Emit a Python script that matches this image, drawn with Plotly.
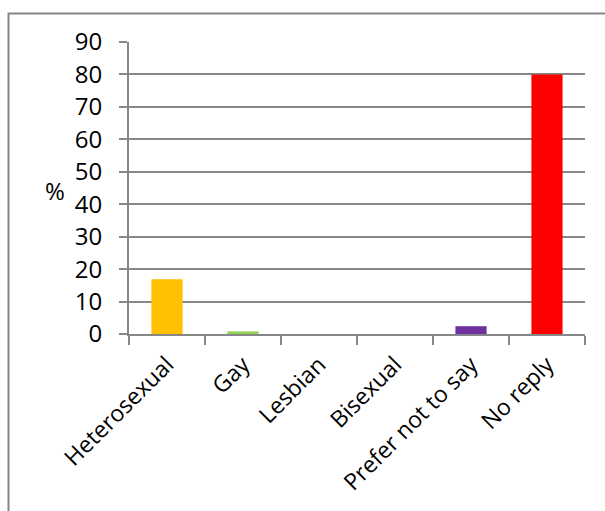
import plotly.graph_objects as go

categories = ["Heterosexual", "Gay", "Lesbian", "Bisexual", "Prefer not to say", "No reply"]
values = [16.9, 0.8, 0, 0, 2.4, 80]
colors = ["#FFC000", "#92D050", "#4F81BD", "#C0504D", "#7030A0", "#FF0000"]
y_ticks = [0, 10, 20, 30, 40, 50, 60, 70, 80, 90]

L, R, T, B = 129, 585, 42, 334
W, H = 605, 511

fig = go.Figure(go.Bar(x=categories, y=values, marker=dict(color=colors, line=dict(width=0)),
                       width=0.41))

font = "Open Sans"
fig.update_layout(
    width=W, height=H,
    margin=dict(l=L, r=W - R, t=T, b=H - B),
    paper_bgcolor="white", plot_bgcolor="white",
    showlegend=False,
    font=dict(family=font, color="black"),
)
fig.update_xaxes(
    type="category", range=[-0.5, 5.5],
    showline=True, linecolor="#878787", linewidth=2,
    ticks="outside", tickson="boundaries", ticklen=9, tickwidth=1.5, tickcolor="#878787",
    tickangle=-45, tickfont=dict(size=23, family=font),
    ticklabelstandoff=6,
    showgrid=False,
)
fig.update_yaxes(
    range=[0, 90], tickvals=y_ticks,
    showline=True, linecolor="#878787", linewidth=2,
    ticks="outside", ticklen=8, tickwidth=1.5, tickcolor="#878787",
    showgrid=True, gridcolor="#878787", gridwidth=2,
    tickfont=dict(size=24, family=font),
    ticklabelstandoff=12,
    zeroline=False,
)
fig.add_annotation(text="%", xref="paper", yref="paper",
                   x=(55 - L) / (R - L), y=(B - 190) / (B - T),
                   xanchor="center", yanchor="middle",
                   showarrow=False, font=dict(size=24, family=font))
fig.add_shape(type="rect", xref="paper", yref="paper",
              x0=(8.5 - L) / (R - L), x1=(615 - L) / (R - L),
              y0=(B - 530) / (B - T), y1=1 + (T - 13.5) / (B - T),
              line=dict(color="#868686", width=2), layer="below")
fig.write_html("out.html")
